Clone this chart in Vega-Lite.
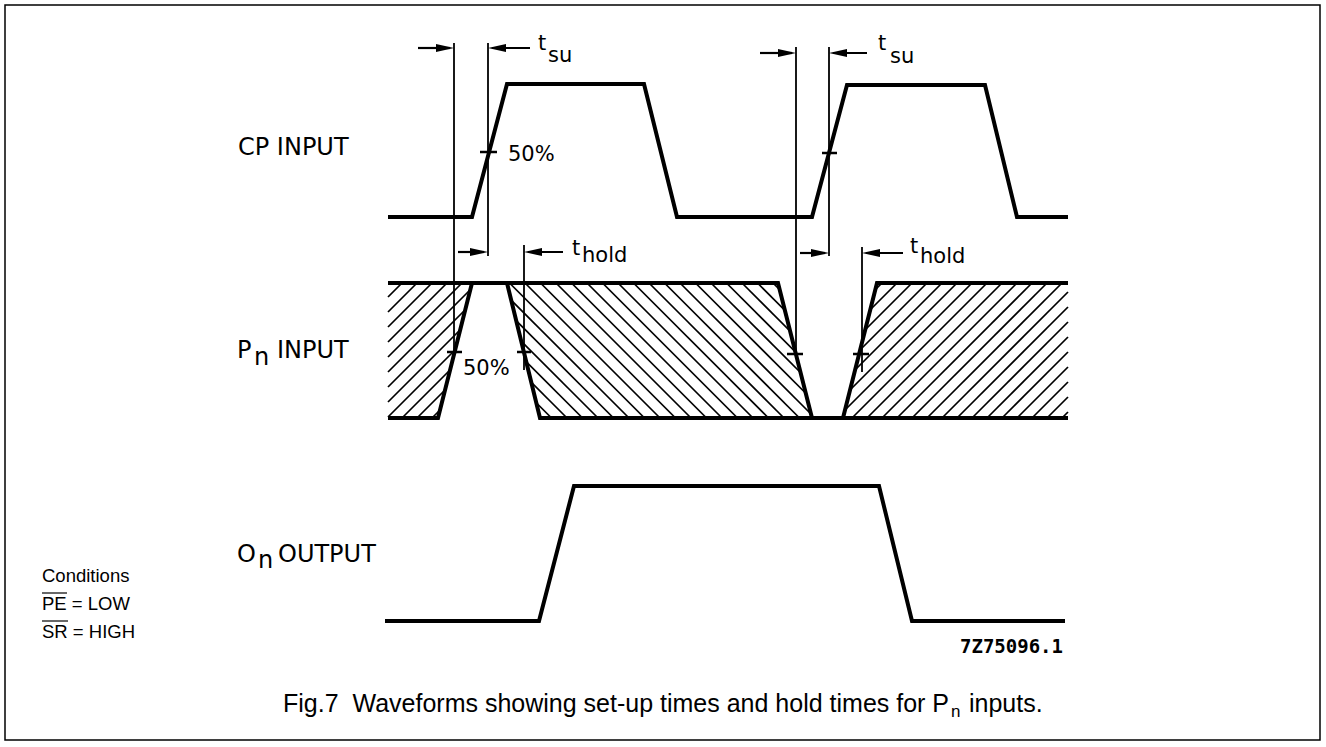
{
  "$schema": "https://vega.github.io/schema/vega-lite/v6.json",
  "width": 1315,
  "height": 735,
  "padding": {"left": 5, "top": 5, "right": 6, "bottom": 7},
  "autosize": {"type": "none"},
  "background": "white",
  "config": {"view": {"stroke": "black", "strokeWidth": 1.5}},
  "datasets": {
    "waves": [
      {"s": "CP", "i": 1, "x": 388, "y": 217}, {"s": "CP", "i": 2, "x": 472, "y": 217},
      {"s": "CP", "i": 3, "x": 507, "y": 84}, {"s": "CP", "i": 4, "x": 644, "y": 84},
      {"s": "CP", "i": 5, "x": 677, "y": 217}, {"s": "CP", "i": 6, "x": 812, "y": 217},
      {"s": "CP", "i": 7, "x": 847, "y": 85}, {"s": "CP", "i": 8, "x": 985, "y": 85},
      {"s": "CP", "i": 9, "x": 1017, "y": 217}, {"s": "CP", "i": 10, "x": 1068, "y": 217},
      {"s": "PA", "i": 1, "x": 388, "y": 418}, {"s": "PA", "i": 2, "x": 438, "y": 418}, {"s": "PA", "i": 3, "x": 472, "y": 283},
      {"s": "PB", "i": 1, "x": 388, "y": 283}, {"s": "PB", "i": 2, "x": 778, "y": 283}, {"s": "PB", "i": 3, "x": 812, "y": 418},
      {"s": "PC", "i": 1, "x": 507, "y": 283}, {"s": "PC", "i": 2, "x": 540, "y": 418}, {"s": "PC", "i": 3, "x": 1068, "y": 418},
      {"s": "PD", "i": 1, "x": 843, "y": 418}, {"s": "PD", "i": 2, "x": 877, "y": 283}, {"s": "PD", "i": 3, "x": 1068, "y": 283},
      {"s": "ON", "i": 1, "x": 385, "y": 621}, {"s": "ON", "i": 2, "x": 539, "y": 621},
      {"s": "ON", "i": 3, "x": 574, "y": 486}, {"s": "ON", "i": 4, "x": 879, "y": 486},
      {"s": "ON", "i": 5, "x": 912, "y": 621}, {"s": "ON", "i": 6, "x": 1065, "y": 621}
    ],
    "hatch": [
      {"x": 388, "y": 297, "x2": 402, "y2": 283}, {"x": 388, "y": 312, "x2": 417, "y2": 283},
      {"x": 388, "y": 327, "x2": 432, "y2": 283}, {"x": 388, "y": 342, "x2": 447, "y2": 283},
      {"x": 388, "y": 357, "x2": 462, "y2": 283}, {"x": 388, "y": 372, "x2": 472, "y2": 288},
      {"x": 388, "y": 387, "x2": 472, "y2": 303}, {"x": 388, "y": 402, "x2": 472, "y2": 318},
      {"x": 388, "y": 417, "x2": 472, "y2": 333}, {"x": 402, "y": 418, "x2": 472, "y2": 348},
      {"x": 417, "y": 418, "x2": 472, "y2": 363}, {"x": 432, "y": 418, "x2": 472, "y2": 378},
      {"x": 507, "y": 373.5, "x2": 551.5, "y2": 418}, {"x": 507, "y": 358, "x2": 567, "y2": 418},
      {"x": 507, "y": 342.5, "x2": 582.5, "y2": 418}, {"x": 507, "y": 327, "x2": 598, "y2": 418},
      {"x": 507, "y": 311.5, "x2": 613.5, "y2": 418}, {"x": 507, "y": 296, "x2": 629, "y2": 418},
      {"x": 509.5, "y": 283, "x2": 644.5, "y2": 418}, {"x": 525, "y": 283, "x2": 660, "y2": 418},
      {"x": 540.5, "y": 283, "x2": 675.5, "y2": 418}, {"x": 556, "y": 283, "x2": 691, "y2": 418},
      {"x": 571.5, "y": 283, "x2": 706.5, "y2": 418}, {"x": 587, "y": 283, "x2": 722, "y2": 418},
      {"x": 602.5, "y": 283, "x2": 737.5, "y2": 418}, {"x": 618, "y": 283, "x2": 753, "y2": 418},
      {"x": 633.5, "y": 283, "x2": 768.5, "y2": 418}, {"x": 649, "y": 283, "x2": 784, "y2": 418},
      {"x": 664.5, "y": 283, "x2": 799.5, "y2": 418}, {"x": 680, "y": 283, "x2": 812, "y2": 415},
      {"x": 695.5, "y": 283, "x2": 812, "y2": 399.5}, {"x": 711, "y": 283, "x2": 812, "y2": 384},
      {"x": 726.5, "y": 283, "x2": 812, "y2": 368.5}, {"x": 742, "y": 283, "x2": 812, "y2": 353},
      {"x": 757.5, "y": 283, "x2": 812, "y2": 337.5}, {"x": 773, "y": 283, "x2": 812, "y2": 322},
      {"x": 843, "y": 322, "x2": 882, "y2": 283}, {"x": 843, "y": 337, "x2": 897, "y2": 283},
      {"x": 843, "y": 352, "x2": 912, "y2": 283}, {"x": 843, "y": 367, "x2": 927, "y2": 283},
      {"x": 843, "y": 382, "x2": 942, "y2": 283}, {"x": 843, "y": 397, "x2": 957, "y2": 283},
      {"x": 843, "y": 412, "x2": 972, "y2": 283}, {"x": 852, "y": 418, "x2": 987, "y2": 283},
      {"x": 867, "y": 418, "x2": 1002, "y2": 283}, {"x": 882, "y": 418, "x2": 1017, "y2": 283},
      {"x": 897, "y": 418, "x2": 1032, "y2": 283}, {"x": 912, "y": 418, "x2": 1047, "y2": 283},
      {"x": 927, "y": 418, "x2": 1062, "y2": 283}, {"x": 942, "y": 418, "x2": 1068, "y2": 292},
      {"x": 957, "y": 418, "x2": 1068, "y2": 307}, {"x": 972, "y": 418, "x2": 1068, "y2": 322},
      {"x": 987, "y": 418, "x2": 1068, "y2": 337}, {"x": 1002, "y": 418, "x2": 1068, "y2": 352},
      {"x": 1017, "y": 418, "x2": 1068, "y2": 367}, {"x": 1032, "y": 418, "x2": 1068, "y2": 382},
      {"x": 1047, "y": 418, "x2": 1068, "y2": 397}, {"x": 1062, "y": 418, "x2": 1068, "y2": 412}
    ],
    "gaps": [
      {"g": 1, "y": 283, "x": 472, "x2": 507}, {"g": 1, "y": 418, "x": 438, "x2": 540},
      {"g": 2, "y": 283, "x": 778, "x2": 877}, {"g": 2, "y": 418, "x": 812, "x2": 843}
    ],
    "segs": [
      {"k": "v", "x": 454, "y": 43, "x2": 454, "y2": 355},
      {"k": "v", "x": 488, "y": 43, "x2": 488, "y2": 256},
      {"k": "v", "x": 524, "y": 245, "x2": 524, "y2": 370},
      {"k": "v", "x": 796, "y": 47, "x2": 796, "y2": 358},
      {"k": "v", "x": 829, "y": 47, "x2": 829, "y2": 256},
      {"k": "v", "x": 862, "y": 247, "x2": 862, "y2": 372},
      {"k": "a", "x": 418, "y": 48, "x2": 450, "y2": 48},
      {"k": "a", "x": 530, "y": 48, "x2": 492, "y2": 48},
      {"k": "a", "x": 458, "y": 252, "x2": 484, "y2": 252},
      {"k": "a", "x": 563, "y": 252, "x2": 528, "y2": 252},
      {"k": "a", "x": 760, "y": 53, "x2": 792, "y2": 53},
      {"k": "a", "x": 867, "y": 53, "x2": 833, "y2": 53},
      {"k": "a", "x": 800, "y": 253, "x2": 825, "y2": 253},
      {"k": "a", "x": 903, "y": 253, "x2": 866, "y2": 253},
      {"k": "t", "x": 480, "y": 152, "x2": 497, "y2": 152},
      {"k": "t", "x": 822, "y": 153, "x2": 837, "y2": 153},
      {"k": "t", "x": 447, "y": 352, "x2": 462, "y2": 352},
      {"k": "t", "x": 517, "y": 352, "x2": 531, "y2": 352},
      {"k": "t", "x": 787, "y": 354, "x2": 803, "y2": 354},
      {"k": "t", "x": 853, "y": 354, "x2": 869, "y2": 354},
      {"k": "o", "x": 42, "y": 593, "x2": 67, "y2": 593},
      {"k": "o", "x": 42, "y": 621, "x2": 68, "y2": 621}
    ],
    "heads": [
      {"x": 454, "y": 48, "dir": "r"}, {"x": 488, "y": 48, "dir": "l"},
      {"x": 488, "y": 252, "dir": "r"}, {"x": 524, "y": 252, "dir": "l"},
      {"x": 796, "y": 53, "dir": "r"}, {"x": 829, "y": 53, "dir": "l"},
      {"x": 829, "y": 253, "dir": "r"}, {"x": 862, "y": 253, "dir": "l"}
    ],
    "labels": [
      {"g": "sig", "t": "CP INPUT", "x": 238, "y": 155},
      {"g": "sig", "t": "P", "x": 237, "y": 358},
      {"g": "sig", "t": "n", "x": 254, "y": 365},
      {"g": "sig", "t": "INPUT", "x": 277, "y": 358},
      {"g": "sig", "t": "O", "x": 237, "y": 562},
      {"g": "sig", "t": "n", "x": 258, "y": 568},
      {"g": "sig", "t": "OUTPUT", "x": 278, "y": 562},
      {"g": "tt", "t": "t", "x": 538, "y": 50},
      {"g": "tt", "t": "su", "x": 548, "y": 62},
      {"g": "tt", "t": "t", "x": 878, "y": 50},
      {"g": "tt", "t": "su", "x": 890, "y": 63},
      {"g": "tt", "t": "t", "x": 572, "y": 255},
      {"g": "tt", "t": "hold", "x": 582, "y": 262},
      {"g": "tt", "t": "t", "x": 910, "y": 253},
      {"g": "tt", "t": "hold", "x": 920, "y": 263},
      {"g": "tt", "t": "50%", "x": 508, "y": 161},
      {"g": "tt", "t": "50%", "x": 463, "y": 375},
      {"g": "cond", "t": "Conditions", "x": 42, "y": 582},
      {"g": "cond", "t": "PE = LOW", "x": 42, "y": 610},
      {"g": "cond", "t": "SR = HIGH", "x": 42, "y": 638},
      {"g": "cap", "t": "Fig.7", "x": 283, "y": 712},
      {"g": "cap", "t": "Waveforms showing set-up times and hold times for P", "x": 352.5, "y": 712},
      {"g": "cap", "t": "inputs.", "x": 969, "y": 712},
      {"g": "capsub", "t": "n", "x": 951, "y": 717},
      {"g": "code", "t": "7Z75096.1", "x": 1063, "y": 653}
    ]
  },
  "encoding": {
    "x": {"field": "x", "type": "quantitative", "scale": {"domain": [5, 1320], "nice": false, "zero": false}, "axis": null},
    "y": {"field": "y", "type": "quantitative", "scale": {"domain": [5, 740], "nice": false, "zero": false, "reverse": true}, "axis": null}
  },
  "layer": [
    {
      "data": {"name": "hatch"},
      "mark": {"type": "rule", "color": "black", "strokeWidth": 1.7},
      "encoding": {"x2": {"field": "x2"}, "y2": {"field": "y2"}}
    },
    {
      "data": {"name": "gaps"},
      "mark": {"type": "area", "orient": "horizontal", "fill": "white", "stroke": null},
      "encoding": {
        "x": {"field": "x", "type": "quantitative", "stack": null, "scale": {"domain": [5, 1320], "nice": false, "zero": false}, "axis": null},
        "x2": {"field": "x2"},
        "detail": {"field": "g", "type": "nominal"}
      }
    },
    {
      "data": {"name": "waves"},
      "mark": {"type": "line", "color": "black", "strokeWidth": 4, "strokeJoin": "miter", "strokeCap": "butt"},
      "encoding": {"detail": {"field": "s", "type": "nominal"}, "order": {"field": "i", "type": "quantitative"}}
    },
    {
      "data": {"name": "segs"},
      "transform": [{"filter": "datum.k === 'v'"}],
      "mark": {"type": "rule", "color": "black", "strokeWidth": 1.8},
      "encoding": {"x2": {"field": "x2"}, "y2": {"field": "y2"}}
    },
    {
      "data": {"name": "segs"},
      "transform": [{"filter": "datum.k === 'a'"}],
      "mark": {"type": "rule", "color": "black", "strokeWidth": 2.2},
      "encoding": {"x2": {"field": "x2"}, "y2": {"field": "y2"}}
    },
    {
      "data": {"name": "segs"},
      "transform": [{"filter": "datum.k === 't'"}],
      "mark": {"type": "rule", "color": "black", "strokeWidth": 2.5},
      "encoding": {"x2": {"field": "x2"}, "y2": {"field": "y2"}}
    },
    {
      "data": {"name": "segs"},
      "transform": [{"filter": "datum.k === 'o'"}],
      "mark": {"type": "rule", "color": "black", "strokeWidth": 1.2},
      "encoding": {"x2": {"field": "x2"}, "y2": {"field": "y2"}}
    },
    {
      "data": {"name": "heads"},
      "transform": [{"filter": "datum.dir === 'r'"}],
      "mark": {"type": "point", "shape": "M0,0L-2,-0.45L-2,0.45Z", "size": 324, "filled": true, "color": "black", "opacity": 1, "strokeWidth": 0}
    },
    {
      "data": {"name": "heads"},
      "transform": [{"filter": "datum.dir === 'l'"}],
      "mark": {"type": "point", "shape": "M0,0L2,-0.45L2,0.45Z", "size": 324, "filled": true, "color": "black", "opacity": 1, "strokeWidth": 0}
    },
    {
      "data": {"name": "labels"},
      "transform": [{"filter": "datum.g === 'sig'"}],
      "mark": {"type": "text", "font": "DejaVu Sans", "fontSize": 24, "align": "left", "baseline": "alphabetic", "color": "black"},
      "encoding": {"text": {"field": "t"}}
    },
    {
      "data": {"name": "labels"},
      "transform": [{"filter": "datum.g === 'tt'"}],
      "mark": {"type": "text", "font": "DejaVu Sans", "fontSize": 21, "align": "left", "baseline": "alphabetic", "color": "black"},
      "encoding": {"text": {"field": "t"}}
    },
    {
      "data": {"name": "labels"},
      "transform": [{"filter": "datum.g === 'cond'"}],
      "mark": {"type": "text", "font": "Liberation Sans", "fontSize": 18.5, "align": "left", "baseline": "alphabetic", "color": "black"},
      "encoding": {"text": {"field": "t"}}
    },
    {
      "data": {"name": "labels"},
      "transform": [{"filter": "datum.g === 'cap'"}],
      "mark": {"type": "text", "font": "Liberation Sans", "fontSize": 25, "align": "left", "baseline": "alphabetic", "color": "black"},
      "encoding": {"text": {"field": "t"}}
    },
    {
      "data": {"name": "labels"},
      "transform": [{"filter": "datum.g === 'capsub'"}],
      "mark": {"type": "text", "font": "Liberation Sans", "fontSize": 17, "align": "left", "baseline": "alphabetic", "color": "black"},
      "encoding": {"text": {"field": "t"}}
    },
    {
      "data": {"name": "labels"},
      "transform": [{"filter": "datum.g === 'code'"}],
      "mark": {"type": "text", "font": "DejaVu Sans Mono", "fontSize": 19, "fontWeight": "bold", "align": "right", "baseline": "alphabetic", "color": "black"},
      "encoding": {"text": {"field": "t"}}
    }
  ]
}
